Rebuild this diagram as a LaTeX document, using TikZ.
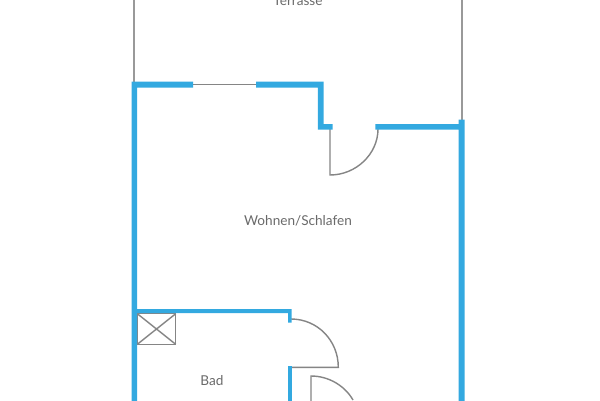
\documentclass[tikz,border=0pt]{standalone}
\usepackage{fontspec}
\setmainfont{Lato}
\definecolor{wallblue}{HTML}{33A9E0}
\definecolor{fixgray}{HTML}{858585}
\definecolor{outergray}{HTML}{999999}
\definecolor{labelgray}{HTML}{6A6A6A}
\tikzset{
  wall/.style={fill=wallblue,draw=none},
  thinline/.style={draw=fixgray,line width=1.4pt,fill=none},
  outerline/.style={draw=outergray,line width=1.8pt},
  label/.style={text=labelgray,font=\fontsize{13.6}{15}\selectfont,inner sep=0pt,anchor=base}
}
\begin{document}
\begin{tikzpicture}[x=1pt,y=-1pt]
\useasboundingbox (0,0) rectangle (600,400);
\clip (0,0) rectangle (600,400);
\fill[white] (0,0) rectangle (600,400);
% thin lines
\draw[outerline] (134,-2) -- (134,83);
\draw[outerline] (461.6,-2) -- (461.6,121);
\draw[thinline] (193,84.5) -- (256,84.5);
\draw[thinline] (330,129) -- (330,175) .. controls (356,175) and (378,154) .. (378,129);
\draw[thinline] (291,319) .. controls (317.5,319) and (338.3,340.5) .. (338.3,367.3) -- (291,367.3);
\draw[thinline] (311,403) -- (311,376) .. controls (329,376) and (345,386) .. (353,400);
\draw[thinline] (137.3,313.7) rectangle (175.7,344.3);
\draw[thinline] (137.3,313.7) -- (175.7,344.3) (175.7,313.7) -- (137.3,344.3);
% walls
\fill[wall] (131.5,403) -- (131.5,81.5) -- (193,81.5) -- (193,87.5) -- (137,87.5) -- (137,403) -- cycle;
\fill[wall] (256,81.5) -- (323.5,81.5) -- (323.5,124) -- (332.7,124) -- (332.7,129.5) -- (317.8,129.5) -- (317.8,87.5) -- (256,87.5) -- cycle;
\fill[wall] (375.3,124) -- (458.5,124) -- (458.5,119.5) -- (464.5,119.5) -- (464.5,403) -- (458.5,403) -- (458.5,129.5) -- (375.3,129.5) -- cycle;
\fill[wall] (136,309) -- (291.5,309) -- (291.5,322.7) -- (288,322.7) -- (288,313) -- (136,313) -- cycle;
\fill[wall] (288,365.7) rectangle (291.5,403);
% labels
\node[label] (terrasse) at (298,5) {Terrasse};
\node[label] (wohnen) at (298,225) {Wohnen/Schlafen};
\node[label] (bad) at (212,385.5) {Bad};
\end{tikzpicture}
\end{document}
